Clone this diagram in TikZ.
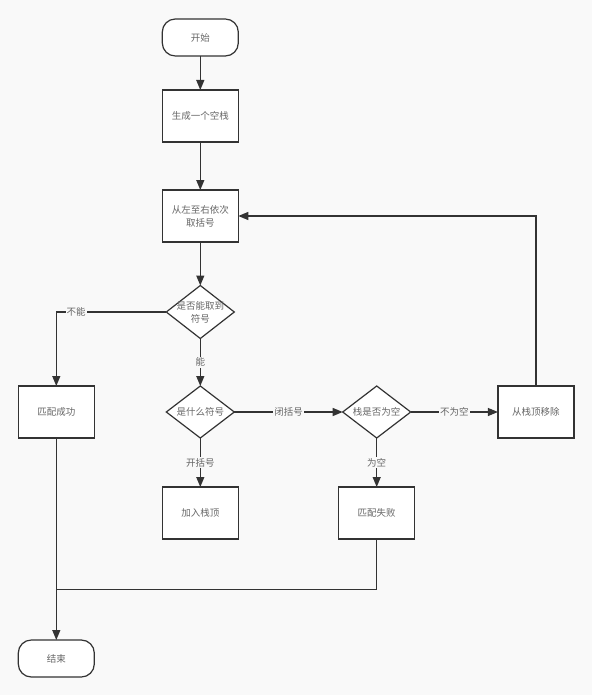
\documentclass[tikz,border=0pt]{standalone}
\usepackage{fontspec}
\newfontfamily\cjk{Noto Sans CJK SC}
\usepackage{xcolor}
\usetikzlibrary{arrows.meta,positioning,shapes.geometric}
\definecolor{canvas}{HTML}{F9F9F9}
\definecolor{ink}{HTML}{333333}

\begin{document}
\begin{tikzpicture}[
    font=\cjk\fontsize{9.5}{13}\selectfont,
    box/.style={draw=ink,fill=white,line width=1.2pt,outer sep=0pt,minimum width=76pt,minimum height=52pt,align=center,text=ink!75,inner sep=2pt},
    term/.style={box,rounded corners=13pt,minimum height=37pt},
    dec/.style={draw=ink,fill=white,line width=1.2pt,outer sep=0pt,diamond,aspect=1.3,minimum width=68pt,minimum height=52pt,inner sep=-3pt,align=center,text=ink!75},
    lab/.style={fill=canvas,inner sep=1pt,text=ink!75},
    line/.style={draw=ink,line width=1.2pt},
    >={Triangle[length=10pt,width=8pt]}
  ]
    \fill[canvas] (0,0) rectangle (592pt,-695pt);
    \useasboundingbox (0,0) rectangle (592pt,-695pt);
    \node[term] (start) at (200.3pt,-37.5pt) {开始};
    \node[box,below=34pt of start] (gen) {生成一个空栈};
    \node[box,below=48pt of gen] (take) {从左至右依次\\取括号};
    \node[dec,below=43.5pt of take,minimum height=53pt] (canget) {是否能取到\\符号};
    \node[dec,below=47.5pt of canget] (what) {是什么符号};
    \node[box,below=49pt of what] (push) {加入栈顶};
    \node[dec,right=108.4pt of what] (empty) {栈是否为空};
    \node[box,below=49pt of empty] (fail) {匹配失败};
    \node[box,right=87.2pt of empty] (pop) {从栈顶移除};
    \node[box,left=72pt of what] (succ) {匹配成功};
    \node[term,below=202pt of succ] (end) {结束};
    \coordinate[below=151.5pt of succ] (merge);
    \draw[line,->] (start) -- (gen);
    \draw[line,->] (gen) -- (take);
    \draw[line,->] (take) -- (canget);
    \draw[line,->] (canget) -| node[lab,pos=0.41] {不能} (succ);
    \draw[line,->] (canget) -- node[lab] {能} (what);
    \draw[line,->] (what) -- node[lab] {开括号} (push);
    \draw[line,->] (what) -- node[lab] {闭括号} (empty);
    \draw[line,->] (empty) -- node[lab] {不为空} (pop);
    \draw[line,->] (empty) -- node[lab] {为空} (fail);
    \draw[line,->] (pop) |- (take);
    \draw[line] (fail) |- (merge);
    \draw[line,->] (succ) -- (end);
  \end{tikzpicture}
\end{document}
